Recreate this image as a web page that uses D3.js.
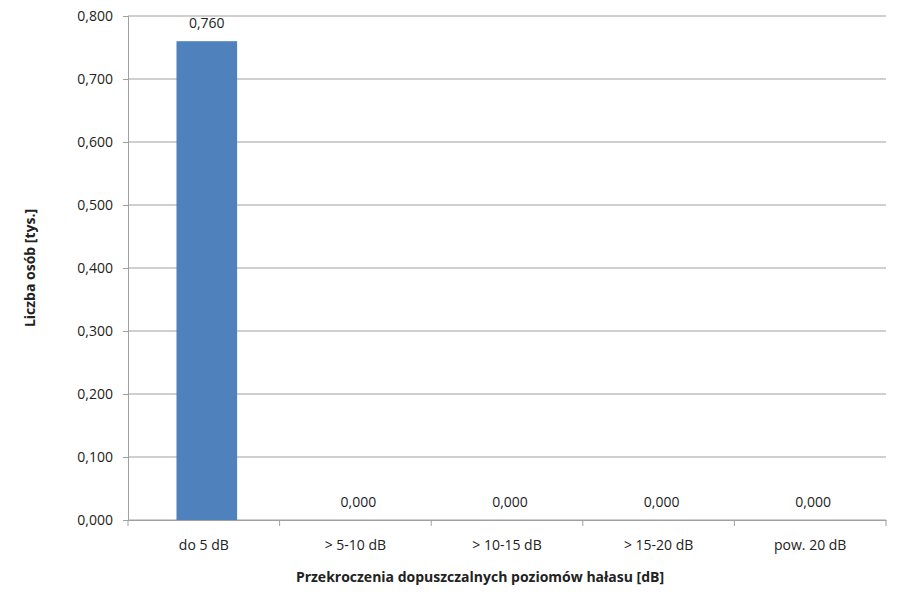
<!DOCTYPE html>
<html><head><meta charset="utf-8">
<script src="https://cdn.jsdelivr.net/npm/d3@7"></script>
<style>body{margin:0;background:#fff}text{font-family:"Open Sans","Liberation Sans",Arial,sans-serif}</style>
</head><body><svg id="c" width="900" height="608"></svg>
<script>
const categories=["do 5 dB","> 5-10 dB","> 10-15 dB","> 15-20 dB","pow. 20 dB"];
const values=[0.760,0,0,0,0];
const yTicks=[0,0.1,0.2,0.3,0.4,0.5,0.6,0.7,0.8];
const fmt=v=>v.toFixed(3).replace(".",",");
const svg=d3.select("#c");
const L=128,R=886,T=16,B=520;
const x=d3.scaleBand().domain(categories).range([L,R]).paddingInner(0.6).paddingOuter(0.3);
const y=d3.scaleLinear().domain([0,0.8]).range([B,T]);
svg.append("g").selectAll("line").data(yTicks).join("line")
 .attr("x1",L).attr("x2",R).attr("y1",d=>y(d)).attr("y2",d=>y(d)).attr("stroke","#a0a0a0");
const ya=svg.append("g").attr("transform",`translate(${L},0)`).call(d3.axisLeft(y).tickValues(yTicks).tickFormat(fmt).tickSize(5).tickPadding(10));
ya.select(".domain").attr("stroke","#a0a0a0");ya.selectAll("line").attr("stroke","#a0a0a0");
ya.selectAll("text").attr("font-size",14).attr("fill","#222");
const step=(R-L)/categories.length;
const xa=svg.append("g").attr("transform",`translate(0,${B})`).call(d3.axisBottom(x).tickSize(0).tickPadding(20));
xa.select(".domain").attr("stroke","#a0a0a0");
xa.selectAll("text").attr("font-size",14).attr("fill","#222");
svg.append("g").selectAll("line").data(d3.range(categories.length+1)).join("line")
 .attr("x1",i=>L+i*step).attr("x2",i=>L+i*step).attr("y1",B).attr("y2",B+6).attr("stroke","#a0a0a0");
svg.append("g").selectAll("rect").data(values).join("rect")
 .attr("x",(d,i)=>x(categories[i])+3).attr("width",x.bandwidth())
 .attr("y",d=>y(d)).attr("height",d=>B-y(d)).attr("fill","#4f81bd");
svg.append("g").selectAll("text").data(values).join("text")
 .attr("x",(d,i)=>x(categories[i])+3+x.bandwidth()/2).attr("y",d=>y(d)-13)
 .attr("text-anchor","middle").attr("font-size",14).attr("fill","#222").text(fmt);
svg.append("text").attr("x",480).attr("y",582).attr("text-anchor","middle")
 .attr("font-size",14).attr("font-weight","bold").attr("fill","#222").text("Przekroczenia dopuszczalnych  poziomów hałasu [dB]");
svg.append("text").attr("transform",`translate(35,${(T+B)/2}) rotate(-90)`).attr("text-anchor","middle")
 .attr("font-size",14).attr("font-weight","bold").attr("fill","#222").text("Liczba osób [tys.]");
</script></body></html>
